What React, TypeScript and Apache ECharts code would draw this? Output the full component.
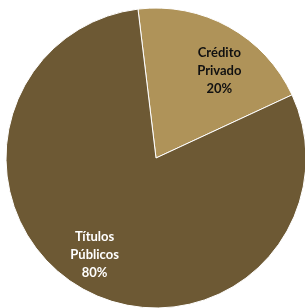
import React, { useEffect, useRef } from "react";
import * as echarts from "echarts";

const categories = ["Crédito\nPrivado", "Títulos\nPúblicos"];
const values = [20, 80];
const colors = ["#AF9359", "#6D5934"];
const labelColors = ["#111111", "#FFFFFF"];

export default function App() {
  const ref = useRef<HTMLDivElement>(null);
  useEffect(() => {
    if (!ref.current) return;
    const chart = echarts.init(ref.current, null, { renderer: "svg" });
    const data = categories.map((name, i) => ({
      name,
      value: values[i],
      itemStyle: { color: colors[i] },
    }));
    const labelData = categories.map((name, i) => ({
      name,
      value: values[i],
      label: { color: labelColors[i] },
    }));
    chart.setOption({
      animation: false,
      series: [
        {
          type: "pie",
          center: [156, 158],
          radius: [0, 150],
          startAngle: 96.9,
          clockwise: true,
          silent: true,
          label: { show: false },
          labelLine: { show: false },
          itemStyle: { borderColor: "#FFFFFF", borderWidth: 1 },
          data,
        },
        {
          type: "pie",
          center: [157, 162],
          radius: [0, 217],
          startAngle: 92,
          clockwise: true,
          silent: true,
          itemStyle: { color: "rgba(0,0,0,0)" },
          label: {
            show: true,
            position: "inside",
            fontFamily: "Lato",
            fontWeight: "bold",
            fontSize: 13,
            lineHeight: 18,
            align: "center",
            formatter: (p: any) => `${p.name}\n${p.value}%`,
          },
          labelLine: { show: false },
          data: labelData,
        },
      ],
    });
    return () => chart.dispose();
  }, []);
  return (
    <div
      ref={ref}
      style={{ position: "fixed", left: 0, top: 0, width: 305, height: 308 }}
    />
  );
}
